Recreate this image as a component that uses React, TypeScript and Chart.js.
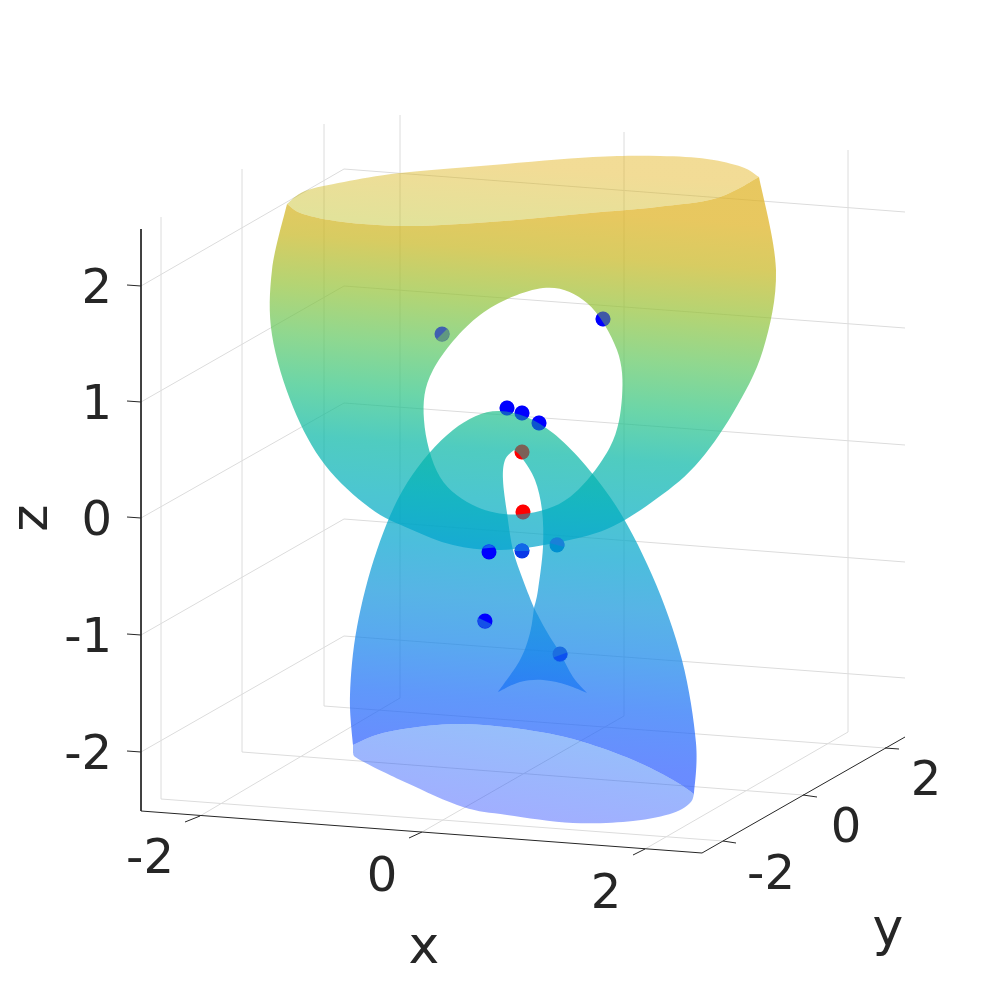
import React, { useEffect, useRef } from "react";
import { Chart, registerables } from "chart.js";

Chart.register(...registerables);

type P = [number, number];

// All coordinates are in the view-plane units of the two linear scales (0..1000).
const gridLevelsZ: P[][] = [
  [[141, 286], [344, 169], [905, 212]],
  [[141, 402], [344, 286], [905, 328]],
  [[141, 518], [344, 403], [905, 445]],
  [[141, 635], [344, 519], [905, 562]],
  [[141, 752], [344, 636], [905, 678]],
];
const gridLevelsX: P[][] = [
  [[200, 816], [400, 698], [400, 115]],
  [[422, 832], [624, 716], [624, 132]],
  [[645, 849], [848, 732], [848, 150]],
];
const gridLevelsY: P[][] = [
  [[723, 841], [161, 799], [161, 217]],
  [[803, 795], [242, 752], [242, 169]],
  [[885, 748], [324, 706], [324, 124]],
];
const axisLines: P[][] = [
  [[141, 229], [141, 811], [702, 853], [905, 737]],
];
const tickLines: P[][] = [
  [[141, 286], [127, 285]],
  [[141, 402], [127, 401]],
  [[141, 518], [127, 517]],
  [[141, 635], [127, 634]],
  [[141, 752], [127, 751]],
  [[200, 816], [185, 822]],
  [[422, 832], [409, 838]],
  [[645, 849], [633, 855]],
  [[723, 841], [736, 843]],
  [[803, 795], [817, 797]],
  [[885, 748], [899, 749]],
];

const upperRim: P[] = [
  [759, 177], [759, 177], [717, 198], [657, 207], [590, 213], [527, 219], [460, 224], [400, 226],
  [343, 222], [303, 214], [287, 204], [287, 204],
];
const upperLidTop: P[] = [
  [305, 191], [344, 182], [400, 173], [493, 165], [593, 157], [660, 156], [707, 159], [742, 167],
];
const upperOuterSide: P[] = [
  [272, 270], [272, 335], [293, 407], [325, 465], [370, 508], [410, 529], [453, 545], [500, 550],
  [555, 543], [607, 529], [652, 502], [695, 466], [733, 413], [763, 350], [776, 270],
];
const upperHole: P[] = [
  [543, 288], [587, 303], [617, 350], [622, 397], [610, 447], [570, 497], [523, 514], [477, 507],
  [440, 477], [424, 420], [433, 370], [480, 315],
];
const lowerRim: P[] = [
  [353, 745], [353, 745], [383, 733], [437, 725], [483, 725], [540, 732], [583, 742], [633, 760],
  [673, 780], [694, 794], [694, 794],
];
const lowerOuterSide: P[] = [
  [696, 743], [682, 660], [652, 575], [610, 497], [553, 433], [500, 411], [453, 430], [407, 483],
  [377, 550], [357, 627], [350, 695],
];
const lowerSlit: P[] = [
  [514, 450], [514, 450], [505, 460], [503, 480], [507, 513], [513, 550], [523, 580], [534, 608],
  [534, 608], [538, 590], [543, 547], [542, 510], [535, 480], [522, 458],
];
const lowerFold: P[] = [
  [534, 608], [534, 608], [530, 633], [520, 660], [498, 692], [498, 692], [520, 682], [543, 680],
  [567, 685], [587, 693], [587, 693], [573, 677], [560, 653], [547, 632],
];
const lowerLidBottom: P[] = [
  [690, 803], [673, 813], [633, 821], [573, 823], [507, 815], [463, 807], [407, 783], [360, 760],
  [353, 753], [353, 753],
];

const coveredPoints: P[] = [[603, 319], [507, 408], [522, 413], [539, 423]];
const coveredRedPoints: P[] = [[522, 452], [523, 512]];
const frontPoints: P[] = [[442, 334], [489, 552], [522, 551], [557, 545], [485, 621], [560, 654]];
const frontFill = ["#4060b0", "#0000ff", "#0a38e8", "#0090d0", "#0000ff", "#1c6ee0"];
const frontCap = ["#609880", "#1060f0", "#1068e8", "#1a80d8", "#1450e8", "#0c50f0"];
const frontCapAngle = [-45, 175, 180, 195, 25, -20];
const frontCapOffset = [0, 4, 0, 0, 0, 1];

const surfaceStops: [number, string][] = [
  [205, "#e8c860"], [250, "#d8cc62"], [300, "#b4d474"], [350, "#90d890"], [400, "#6cd6a8"],
  [450, "#50ccc0"], [500, "#40c6d0"], [550, "#48bedd"], [600, "#58b4e6"], [650, "#5aa8f0"],
  [700, "#6098fa"], [760, "#6a8cff"],
];
const upperLidStops: [number, string][] = [[165, "#f2dc96"], [230, "#e2e29a"]];
const lowerLidStops: [number, string][] = [[720, "#96c0fa"], [772, "#9cb6fd"], [820, "#a2aeff"]];

const zTicks = ["2", "1", "0", "-1", "-2"];
const xTicks = ["-2", "0", "2"];
const yTicks = ["-2", "0", "2"];
const zTickAnchors: P[] = [[112, 291], [112, 407], [112, 523], [112, 640], [112, 757]];
const xTickAnchors: P[] = [[150, 861], [382, 879], [606, 896]];
const yTickAnchors: P[] = [[771, 877], [846, 830], [926, 783]];
const axisTitles = ["x", "y", "z"];
const axisTitleAnchors: P[] = [[424, 949], [888, 931], [33, 518]];

const INK = "#262626";
const FONT = '"DejaVu Sans", sans-serif';

function hexToBase(hex: string, alpha: number) {
  const n = parseInt(hex.slice(1), 16);
  const comp = [(n >> 16) & 255, (n >> 8) & 255, n & 255].map((c) =>
    Math.max(0, Math.min(255, Math.round((c - (1 - alpha) * 255) / alpha)))
  );
  return `rgba(${comp[0]},${comp[1]},${comp[2]},${alpha})`;
}

function capCanvas(color: string, offset: number) {
  const r = 7.5;
  const c = document.createElement("canvas");
  c.width = 16;
  c.height = 16;
  const g = c.getContext("2d")!;
  g.beginPath();
  g.rect(0, 8 + offset, 16, 16);
  g.clip();
  g.beginPath();
  g.arc(8, 8, r, 0, Math.PI * 2);
  g.fillStyle = color;
  g.fill();
  return c;
}

const toXY = (pts: P[]) => pts.map(([x, y]) => ({ x, y }));

const line = (pts: P[], color: string) => ({
  data: toXY(pts),
  showLine: true,
  borderColor: color,
  borderWidth: 1,
  pointRadius: 0,
  fill: false,
  tension: 0,
});

const contour = (pts: P[], paint?: any) => ({
  data: toXY(pts),
  showLine: false,
  pointRadius: 0,
  paint,
});

const traceContour = (ctx: CanvasRenderingContext2D, pts: { x: number; y: number }[]) => {
  const n = pts.length;
  const at = (i: number) => pts[(i + n) % n];
  ctx.moveTo(pts[0].x, pts[0].y);
  for (let i = 0; i < n; i++) {
    const p0 = at(i - 1);
    const p1 = at(i);
    const p2 = at(i + 1);
    const p3 = at(i + 2);
    if (p1.x === p2.x && p1.y === p2.y) continue; // a repeated point marks a sharp corner
    ctx.bezierCurveTo(
      p1.x + (p2.x - p0.x) / 6,
      p1.y + (p2.y - p0.y) / 6,
      p2.x - (p3.x - p1.x) / 6,
      p2.y - (p3.y - p1.y) / 6,
      p2.x,
      p2.y
    );
  }
  ctx.closePath();
};

const surfacePainter = {
  id: "surfacePainter",
  afterDatasetDraw(chart: any, args: any) {
    const ds = chart.data.datasets[args.index];
    const paint = ds.paint;
    if (!paint) return;
    const ctx: CanvasRenderingContext2D = chart.ctx;
    const xs = chart.scales.x;
    const ys = chart.scales.y;
    const px = (v: number) => xs.getPixelForValue(v);
    const py = (v: number) => ys.getPixelForValue(v);
    const stops: [number, string][] = paint.stops;
    const s0 = stops[0][0];
    const s1 = stops[stops.length - 1][0];
    const t = paint.tilt;
    const k = (s1 - s0) / (1 + t * t);
    const grad = ctx.createLinearGradient(px(500), py(s0), px(500 - t * k), py(s0 + k));
    stops.forEach(([s, c]) => grad.addColorStop((s - s0) / (s1 - s0), hexToBase(c, paint.alpha)));
    ctx.save();
    ctx.beginPath();
    traceContour(ctx, args.meta.data);
    (paint.holes || []).forEach((h: number) => {
      traceContour(ctx, chart.getDatasetMeta(h).data);
    });
    ctx.fillStyle = grad;
    ctx.fill("evenodd");
    ctx.restore();
  },
  afterDraw(chart: any) {
    const ctx: CanvasRenderingContext2D = chart.ctx;
    const xs = chart.scales.x;
    const ys = chart.scales.y;
    const put = (text: string, a: P, size: number, align: CanvasTextAlign, rot = 0) => {
      ctx.save();
      ctx.translate(xs.getPixelForValue(a[0]), ys.getPixelForValue(a[1]));
      ctx.rotate(rot);
      ctx.font = `${size}px ${FONT}`;
      ctx.fillStyle = INK;
      ctx.textAlign = align;
      ctx.textBaseline = "middle";
      ctx.fillText(text, 0, 0);
      ctx.restore();
    };
    zTicks.forEach((s, i) => put(s, zTickAnchors[i], 48, "right"));
    xTicks.forEach((s, i) => put(s, xTickAnchors[i], 48, "center"));
    yTicks.forEach((s, i) => put(s, yTickAnchors[i], 48, "center"));
    put(axisTitles[0], axisTitleAnchors[0], 52, "center");
    put(axisTitles[1], axisTitleAnchors[1], 52, "center");
    put(axisTitles[2], axisTitleAnchors[2], 52, "center", -Math.PI / 2);
  },
};

export default function App() {
  const ref = useRef<HTMLCanvasElement>(null);
  useEffect(() => {
    const layers: any[] = [];
    [...gridLevelsZ, ...gridLevelsX, ...gridLevelsY].forEach((g) => layers.push(line(g, "#dcdcdc")));
    [...axisLines, ...tickLines].forEach((g) => layers.push(line(g, INK)));

    layers.push({
      data: toXY(coveredPoints),
      pointRadius: 7.5,
      pointBackgroundColor: "#0000ff",
      pointBorderWidth: 0,
    });
    layers.push({
      data: toXY(coveredRedPoints),
      pointRadius: 7.5,
      pointBackgroundColor: "#ff0000",
      pointBorderWidth: 0,
    });

    const holeIdx = layers.length;
    layers.push(contour(upperHole));
    layers.push(contour(lowerSlit));
    const lowerContour = [...lowerRim, ...lowerOuterSide];
    const upperContour = [...upperRim, ...upperOuterSide];
    const upperLidContour = [...upperRim, ...upperLidTop];
    const lowerLidContour = [...lowerRim, ...lowerLidBottom];
    layers.push(contour(upperLidContour, { stops: upperLidStops, tilt: 0.075, alpha: 0.45 }));
    layers.push(contour(upperContour, { stops: surfaceStops, tilt: 0.075, alpha: 0.7, holes: [holeIdx] }));
    layers.push(contour(lowerContour, { stops: surfaceStops, tilt: 0.075, alpha: 0.7, holes: [holeIdx + 1] }));
    layers.push(contour(lowerFold, { stops: surfaceStops, tilt: 0.075, alpha: 0.7 }));
    layers.push(contour(lowerLidContour, { stops: lowerLidStops, tilt: 0.15, alpha: 0.45 }));

    layers.push({
      data: toXY(coveredPoints),
      pointRadius: 7.5,
      pointBackgroundColor: "rgba(0,0,255,0.35)",
      pointBorderWidth: 0,
    });
    layers.push({
      data: toXY(coveredRedPoints),
      pointRadius: 7.5,
      pointBackgroundColor: "rgba(255,0,0,0.25)",
      pointBorderWidth: 0,
    });
    layers.push({
      data: toXY(frontPoints),
      pointRadius: 7.5,
      pointBackgroundColor: frontFill,
      pointBorderWidth: 0,
    });
    layers.push({
      data: toXY(frontPoints),
      pointStyle: frontCap.map((c, i) => capCanvas(c, frontCapOffset[i])),
      rotation: frontCapAngle,
      pointRadius: 7.5,
    });

    layers.forEach((d, i) => {
      d.order = layers.length - i;
      d.clip = false;
      if (d.showLine === undefined) d.showLine = false;
    });

    const chart = new Chart(ref.current!, {
      type: "scatter",
      data: { datasets: layers },
      options: {
        responsive: false,
        animation: false,
        layout: { padding: 0, autoPadding: false },
        events: [],
        scales: {
          x: { type: "linear", min: 0, max: 1000, display: false },
          y: { type: "linear", min: 0, max: 1000, reverse: true, display: false },
        },
        plugins: { legend: { display: false }, tooltip: { enabled: false }, title: { display: false } },
      },
      plugins: [surfacePainter],
    } as any);
    return () => chart.destroy();
  }, []);
  return (
    <div style={{ position: "absolute", left: 0, top: 0, width: 1000, height: 1000 }}>
      <canvas ref={ref} width={1000} height={1000} style={{ display: "block" }} />
    </div>
  );
}
